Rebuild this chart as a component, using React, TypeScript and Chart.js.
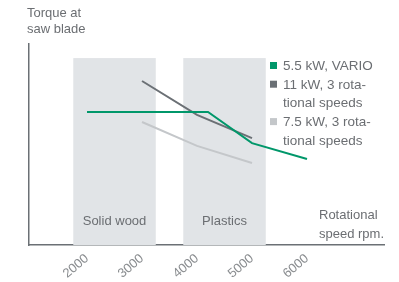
import React, { useEffect, useRef } from "react";
import { Chart, registerables } from "chart.js";

Chart.register(...registerables);

const greenX = [2000, 4200, 5000, 6000];
const greenY = [66.2, 66.2, 50.7, 42.8];
const darkX = [3000, 4000, 5000];
const darkY = [81.6, 64.7, 53.2];
const lightX = [3000, 4000, 5000];
const lightY = [61.2, 49.3, 40.8];
const tickValues = [2000, 3000, 4000, 5000, 6000];
const bandStarts = [1750, 3750];
const bandEnds = [3250, 5250];
const bandLabels = ["Solid wood", "Plastics"];
const bandTop = 93;
const legendLines = [
  ["5.5 kW, VARIO"],
  ["11 kW, 3 rota-", "tional speeds"],
  ["7.5 kW, 3 rota-", "tional speeds"],
];
const yTitle = ["Torque at", "saw blade"];
const xTitle = ["Rotational", "speed rpm."];

const GREEN = "#00976a";
const DARK = "#6b7075";
const LIGHT = "#c4c7ca";
const BAND = "#e1e4e7";
const TEXT = "#6b6e72";
const FONT = "'Liberation Sans', Arial, sans-serif";

const decorPlugin = {
  id: "decor",
  beforeDatasetsDraw(chart: any) {
    const { ctx, scales, chartArea } = chart;
    const x = scales.x;
    const y = scales.y;
    ctx.save();
    ctx.fillStyle = BAND;
    for (let i = 0; i < bandStarts.length; i++) {
      const x0 = x.getPixelForValue(bandStarts[i]);
      const x1 = x.getPixelForValue(bandEnds[i]);
      const yt = y.getPixelForValue(bandTop);
      ctx.fillRect(x0, yt, x1 - x0, chartArea.bottom - yt);
    }
    ctx.fillStyle = TEXT;
    ctx.font = `13px ${FONT}`;
    ctx.textAlign = "center";
    ctx.textBaseline = "alphabetic";
    for (let i = 0; i < bandLabels.length; i++) {
      const cx = (x.getPixelForValue(bandStarts[i]) + x.getPixelForValue(bandEnds[i])) / 2;
      ctx.fillText(bandLabels[i], cx, chartArea.bottom - 20);
    }
    ctx.restore();
  },
  afterDraw(chart: any) {
    const { ctx, chartArea } = chart;
    ctx.save();
    ctx.fillStyle = TEXT;
    ctx.font = `13px ${FONT}`;
    ctx.textAlign = "left";
    ctx.textBaseline = "alphabetic";
    yTitle.forEach((t, i) => ctx.fillText(t, chartArea.left - 2, 17 + i * 16));
    xTitle.forEach((t, i) => ctx.fillText(t, 319, chartArea.bottom - 26 + i * 19));
    // legend
    const colors = [GREEN, DARK, LIGHT];
    ctx.font = `13.5px ${FONT}`;
    let line = 0;
    legendLines.forEach((lines, i) => {
      const base = 70 + line * 18.7;
      ctx.fillStyle = colors[i];
      ctx.fillRect(270, base - 8, 7, 7);
      ctx.fillStyle = TEXT;
      lines.forEach((t, j) => ctx.fillText(t, 283, base + j * 18.7));
      line += lines.length;
    });
    ctx.restore();
  },
};

export default function App() {
  const ref = useRef<HTMLCanvasElement>(null);
  useEffect(() => {
    document.body.style.margin = "0";
    const chart = new Chart(ref.current!, {
      type: "line",
      data: {
        datasets: [
          {
            label: "5.5 kW, VARIO",
            data: greenX.map((v, i) => ({ x: v, y: greenY[i] })),
            borderColor: GREEN,
            borderWidth: 2,
            pointRadius: 0,
            tension: 0,
          },
          {
            label: "11 kW, 3 rotational speeds",
            data: darkX.map((v, i) => ({ x: v, y: darkY[i] })),
            borderColor: DARK,
            borderWidth: 2,
            pointRadius: 0,
            tension: 0,
          },
          {
            label: "7.5 kW, 3 rotational speeds",
            data: lightX.map((v, i) => ({ x: v, y: lightY[i] })),
            borderColor: LIGHT,
            borderWidth: 2,
            pointRadius: 0,
            tension: 0,
          },
        ],
      },
      options: {
        animation: false,
        responsive: false,
        layout: { padding: { left: 0, top: 44, right: 15, bottom: 0 } },
        plugins: { legend: { display: false }, tooltip: { enabled: false } },
        scales: {
          x: {
            type: "linear",
            min: 945,
            max: 7400,
            afterFit: (s: any) => {
              s.height = 37;
            },
            afterBuildTicks: (s: any) => {
              s.ticks = tickValues.map((v) => ({ value: v }));
            },
            grid: { display: false },
            border: { display: true, color: DARK, width: 1.5 },
            ticks: {
              minRotation: 40,
              maxRotation: 40,
              padding: -2,
              color: "#8a8d90",
              font: { family: FONT, size: 13 },
              callback: (v: any) => String(v),
            },
          },
          y: {
            type: "linear",
            min: 0,
            max: 100,
            afterFit: (s: any) => {
              s.width = 29;
            },
            grid: { display: false },
            border: { display: true, color: DARK, width: 1.5 },
            ticks: { display: false },
          },
        },
      },
      plugins: [decorPlugin],
    } as any);
    return () => chart.destroy();
  }, []);
  return (
    <div style={{ position: "absolute", left: 0, top: 0, width: 399, height: 282 }}>
      <canvas ref={ref} width={399} height={282} style={{ display: "block" }} />
    </div>
  );
}
